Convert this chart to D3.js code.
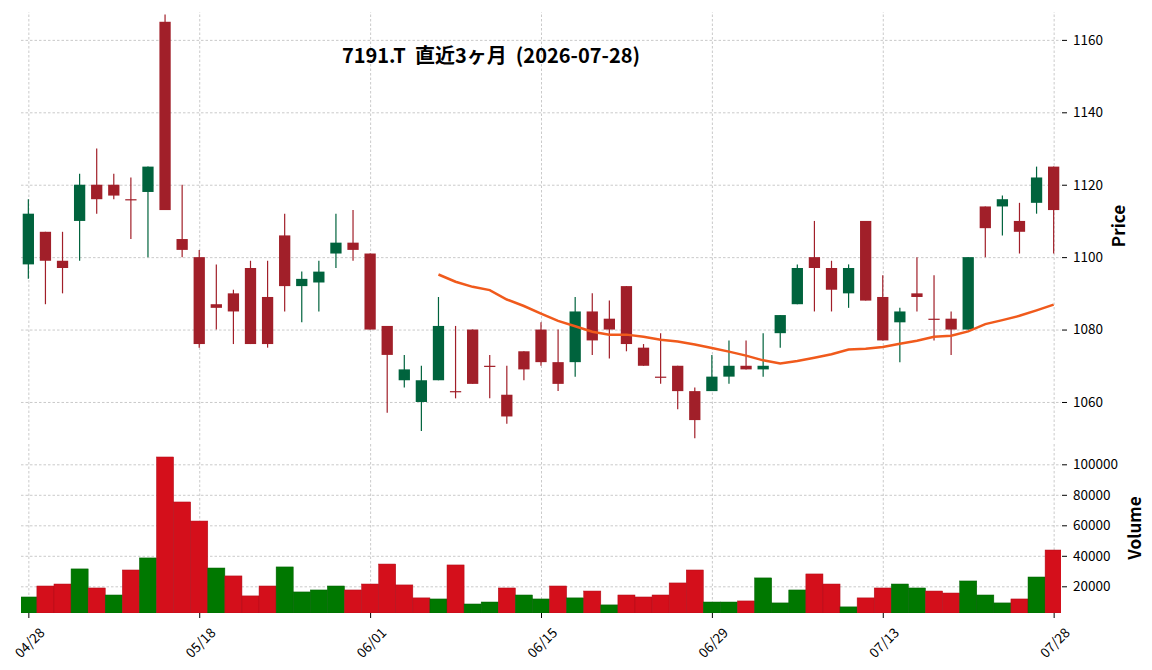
<!DOCTYPE html>
<html>
<head>
<meta charset="utf-8">
<script src="https://cdn.jsdelivr.net/npm/d3@7"></script>
<style>
    body { margin: 0; background: #fff; }
    text { font-family: "Noto Sans CJK JP", "Noto Sans", sans-serif; fill: #000; }
    .grid line { stroke: #bdbdbd; stroke-width: 0.8; stroke-dasharray: 2.5 2; }
    .grid path { display: none; }
    .axis path { display: none; }
    .axis line { stroke: #000; }
</style>
</head>
<body>
<div id="chart"></div>
<script>
const width = 1152
const height = 670

// trading days
const dates = ['04/28', '04/30', '05/01', '05/07', '05/08', '05/11', '05/12', '05/13', '05/14', '05/15',
    '05/18', '05/19', '05/20', '05/21', '05/22', '05/25', '05/26', '05/27', '05/28', '05/29',
    '06/01', '06/02', '06/03', '06/04', '06/05', '06/08', '06/09', '06/10', '06/11', '06/12',
    '06/15', '06/16', '06/17', '06/18', '06/19', '06/22', '06/23', '06/24', '06/25', '06/26',
    '06/29', '06/30', '07/01', '07/02', '07/03', '07/06', '07/07', '07/08', '07/09', '07/10',
    '07/13', '07/14', '07/15', '07/16', '07/17', '07/21', '07/22', '07/23', '07/24', '07/27',
    '07/28']
const opens = [1098, 1107, 1099, 1110, 1120, 1120, 1116, 1118, 1165, 1105,
    1100, 1087, 1090, 1097, 1089, 1106, 1092, 1093, 1101, 1104,
    1101, 1081, 1066, 1060, 1066, 1063, 1080, 1070, 1062, 1074,
    1080, 1071, 1071, 1085, 1083, 1092, 1075, 1067, 1070, 1063,
    1063, 1067, 1070, 1069, 1079, 1087, 1100, 1097, 1090, 1110,
    1089, 1082, 1090, 1083, 1083, 1080, 1114, 1114, 1110, 1115,
    1125]
const highs = [1116, 1107, 1107, 1123, 1130, 1123, 1122, 1125, 1167, 1120,
    1102, 1098, 1091, 1099, 1099, 1112, 1096, 1099, 1112, 1113,
    1101, 1081, 1073, 1070, 1089, 1081, 1080, 1073, 1070, 1074,
    1082, 1080, 1089, 1090, 1088, 1092, 1076, 1079, 1070, 1064,
    1073, 1077, 1077, 1079, 1084, 1098, 1110, 1099, 1098, 1110,
    1095, 1086, 1100, 1095, 1085, 1100, 1114, 1117, 1115, 1125,
    1125]
const lows = [1094, 1087, 1090, 1099, 1112, 1116, 1105, 1100, 1113, 1100,
    1075, 1080, 1076, 1076, 1075, 1085, 1082, 1085, 1097, 1099,
    1080, 1057, 1064, 1052, 1066, 1061, 1065, 1061, 1054, 1066,
    1070, 1063, 1067, 1073, 1072, 1074, 1070, 1065, 1058, 1050,
    1063, 1065, 1069, 1067, 1075, 1087, 1085, 1085, 1086, 1088,
    1077, 1071, 1085, 1077, 1073, 1080, 1100, 1106, 1101, 1112,
    1101]
const closes = [1112, 1099, 1097, 1120, 1116, 1117, 1116, 1125, 1113, 1102,
    1076, 1086, 1085, 1076, 1076, 1092, 1094, 1096, 1104, 1102,
    1080, 1073, 1069, 1066, 1081, 1063, 1065, 1070, 1056, 1069,
    1071, 1065, 1085, 1077, 1080, 1076, 1070, 1067, 1063, 1055,
    1067, 1070, 1069, 1070, 1084, 1097, 1097, 1091, 1097, 1088,
    1077, 1085, 1089, 1083, 1080, 1100, 1108, 1116, 1107, 1122,
    1113]
const volumes = [13000, 20200, 21500, 31400, 18900, 14300, 30700, 38600, 104800, 75300,
    62800, 32000, 26800, 13700, 20200, 32700, 16300, 17600, 20200, 17600,
    21500, 34600, 20900, 12400, 11700, 34000, 8400, 9700, 18900, 14300,
    11700, 20200, 12400, 16900, 7800, 14300, 13000, 14300, 22200, 30700,
    9700, 9700, 10400, 25500, 9100, 17600, 28100, 21500, 6500, 12400,
    18900, 21500, 18900, 16900, 15600, 23500, 14300, 9100, 11700, 26100,
    43800]
// 25-day moving average
const ma25 = [null, null, null, null, null, null, null, null, null, null,
    null, null, null, null, null, null, null, null, null, null,
    null, null, null, null, 1095.2, 1093.2, 1091.8, 1090.9, 1088.3, 1086.5,
    1084.4, 1082.4, 1080.9, 1079.4, 1078.6, 1078.6, 1078.0, 1077.2, 1076.7, 1075.9,
    1074.9, 1073.9, 1072.8, 1071.5, 1070.6, 1071.3, 1072.2, 1073.2, 1074.5, 1074.7,
    1075.2, 1076.1, 1076.9, 1078.0, 1078.3, 1079.5, 1081.5, 1082.6, 1083.8, 1085.3,
    1086.9]
const dateTicks = ['04/28', '05/18', '06/01', '06/15', '06/29', '07/13', '07/28']
const priceTicks = [1060, 1080, 1100, 1120, 1140, 1160]
const volumeTicks = [20000, 40000, 60000, 80000, 100000]

const candleUp = '#00633d'
const candleDown = '#a11f29'
const volUp = '#007800'
const volDown = '#d40f1b'

const plot = { left: 21, right: 1061 }
const pricePanel = { top: 12, bottom: 440 }
const volPanel = { top: 443, bottom: 613 }

let svg = d3.select('#chart').append('svg').attr('width', width).attr('height', height)

let x = d3.scaleLinear().domain([-0.43, 60.43]).range([plot.left, plot.right])
let yP = d3.scaleLinear().domain([1049.5, 1167.7]).range([pricePanel.bottom, pricePanel.top])
let yV = d3.scaleLinear().domain([2490, 113970]).range([volPanel.bottom, volPanel.top])

let data = dates.map((d, i) => ({
    i: i, date: d, open: opens[i], high: highs[i], low: lows[i], close: closes[i],
    volume: volumes[i], ma: ma25[i],
    up: opens[i] < closes[i],
    volUp: i == 0 ? opens[i] < closes[i] : closes[i - 1] < closes[i]
}))

const tickIdx = dateTicks.map(d => dates.indexOf(d))

svg.append('defs').append('clipPath').attr('id', 'volClip')
    .append('rect')
    .attr('x', plot.left).attr('y', volPanel.top)
    .attr('width', plot.right - plot.left).attr('height', volPanel.bottom - volPanel.top)

// grids
let gridGroup = svg.append('g').attr('id', 'gridGroup')
gridGroup.append('g').attr('class', 'grid')
    .attr('transform', `translate(${plot.left}, 0)`)
    .call(d3.axisLeft(yP).tickValues(priceTicks).tickSize(-(plot.right - plot.left)).tickFormat(''))
gridGroup.append('g').attr('class', 'grid')
    .attr('transform', `translate(${plot.left}, 0)`)
    .call(d3.axisLeft(yV).tickValues(volumeTicks).tickSize(-(plot.right - plot.left)).tickFormat(''))
gridGroup.append('g').attr('class', 'grid')
    .attr('transform', `translate(0, ${pricePanel.bottom})`)
    .call(d3.axisBottom(x).tickValues(tickIdx).tickSize(-(pricePanel.bottom - pricePanel.top)).tickFormat(''))
gridGroup.append('g').attr('class', 'grid')
    .attr('transform', `translate(0, ${volPanel.bottom})`)
    .call(d3.axisBottom(x).tickValues(tickIdx).tickSize(-(volPanel.bottom - volPanel.top)).tickFormat(''))

// volume
let volGroup = svg.append('g').attr('id', 'volGroup').attr('clip-path', 'url(#volClip)')
volGroup.selectAll('rect').data(data).enter()
    .append('rect')
    .attr('x', d => x(d.i - 0.5))
    .attr('width', d => x(d.i + 0.5) - x(d.i - 0.5))
    .attr('y', d => yV(d.volume))
    .attr('height', d => yV.range()[0] - yV(d.volume))
    .attr('fill', d => d.volUp ? volUp : volDown)
    .attr('stroke', d => d.volUp ? '#006000' : '#b00d18')
    .attr('stroke-width', 0.5)

// candles
let candleGroup = svg.append('g').attr('id', 'candleGroup')
const bodyW = x(0.66) - x(0)
let candles = candleGroup.selectAll('g.candle').data(data).enter()
    .append('g').attr('class', 'candle')
candles.append('line')
    .attr('x1', d => x(d.i)).attr('x2', d => x(d.i))
    .attr('y1', d => yP(d.high)).attr('y2', d => yP(d.low))
    .attr('stroke', d => d.up ? candleUp : candleDown)
    .attr('stroke-width', 1.2)
candles.append('rect')
    .attr('x', d => x(d.i) - bodyW / 2)
    .attr('width', bodyW)
    .attr('y', d => yP(Math.max(d.open, d.close)))
    .attr('height', d => Math.max(1.2, Math.abs(yP(d.open) - yP(d.close))))
    .attr('fill', d => d.up ? candleUp : candleDown)

// moving average
let maLine = d3.line()
    .defined(d => d.ma != null)
    .x(d => x(d.i))
    .y(d => yP(d.ma))
svg.append('path').datum(data)
    .attr('d', maLine)
    .attr('fill', 'none')
    .attr('stroke', '#f05a1c')
    .attr('stroke-width', 2.5)

// axes
let axisGroup = svg.append('g').attr('id', 'axisGroup')
let yPAxis = axisGroup.append('g').attr('class', 'axis')
    .attr('transform', `translate(${plot.right + 1}, 0)`)
    .call(d3.axisRight(yP).tickValues(priceTicks).tickSize(5).tickPadding(6).tickFormat(d3.format('d')))
let yVAxis = axisGroup.append('g').attr('class', 'axis')
    .attr('transform', `translate(${plot.right + 1}, 0)`)
    .call(d3.axisRight(yV).tickValues(volumeTicks).tickSize(5).tickPadding(6).tickFormat(d3.format('d')))
axisGroup.selectAll('.axis text').style('font-size', '13.5px')

let xAxis = axisGroup.append('g').attr('class', 'axis')
    .attr('transform', `translate(0, ${volPanel.bottom})`)
    .call(d3.axisBottom(x).tickValues(tickIdx).tickSize(5).tickFormat(i => dates[i]))
xAxis.selectAll('text')
    .style('font-size', '13.5px')
    .attr('y', 0).attr('dy', 0)
    .attr('text-anchor', 'middle')
    .attr('dominant-baseline', 'central')
    .attr('transform', `translate(0, 29) rotate(-45)`)

// labels
svg.append('text')
    .attr('transform', `translate(1117, ${(pricePanel.top + pricePanel.bottom) / 2}) rotate(-90)`)
    .attr('text-anchor', 'middle')
    .attr('dominant-baseline', 'central')
    .style('font-size', '17px')
    .style('font-weight', 'bold')
    .text('Price')
svg.append('text')
    .attr('transform', `translate(1133, ${(volPanel.top + volPanel.bottom) / 2}) rotate(-90)`)
    .attr('text-anchor', 'middle')
    .attr('dominant-baseline', 'central')
    .style('font-size', '17px')
    .style('font-weight', 'bold')
    .text('Volume')

svg.append('text')
    .attr('x', 491).attr('y', 63)
    .attr('text-anchor', 'middle')
    .style('font-size', '20px')
    .style('font-weight', 'bold')
    .style('white-space', 'pre')
    .text('7191.T  直近3ヶ月  (2026-07-28)')
</script>
</body>
</html>
